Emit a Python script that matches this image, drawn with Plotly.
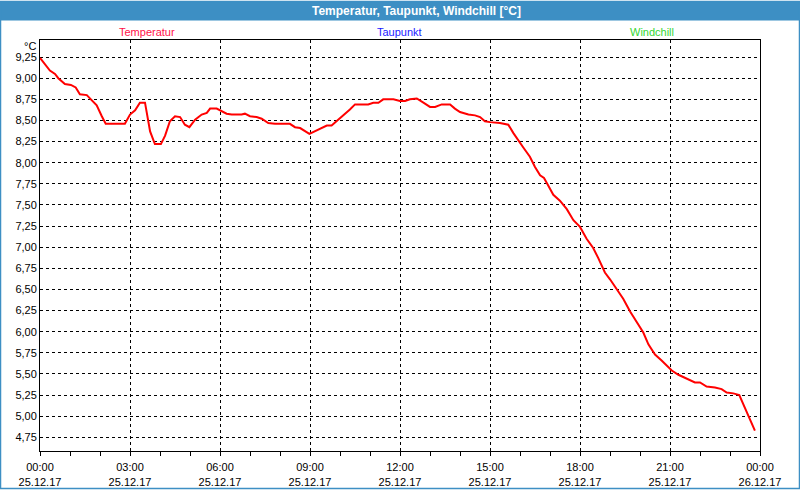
import plotly.graph_objects as go
from datetime import datetime, timedelta

# hours after 25.12.17 00:00 and temperature values (°C)
hours = [0.0, 0.33, 0.5, 0.61, 0.83, 1.03, 1.19, 1.33, 1.56, 1.72, 1.89, 2.06, 2.19,
         2.83, 3.0, 3.17, 3.33, 3.5, 3.67, 3.83, 4.03, 4.17, 4.33, 4.5, 4.67, 4.83,
         4.98, 5.17, 5.39, 5.56, 5.67, 5.89, 6.0, 6.22, 6.39, 6.72, 6.83, 7.0, 7.22,
         7.39, 7.61, 7.83, 8.11, 8.33, 8.5, 8.67, 8.98, 9.22, 9.39, 9.56, 9.72, 9.89,
         10.11, 10.33, 10.5, 10.94, 11.11, 11.28, 11.44, 11.78, 12.0, 12.17, 12.33,
         12.56, 12.78, 13.0, 13.17, 13.39, 13.67, 13.83, 14.0, 14.28, 14.5, 14.67,
         14.83, 15.0, 15.33, 15.61, 15.78, 15.94, 16.11, 16.33, 16.5, 16.67, 16.8,
         16.94, 17.11, 17.33, 17.56, 17.78, 18.0, 18.22, 18.44, 18.61, 18.83, 19.0,
         19.22, 19.44, 19.67, 19.89, 20.11, 20.28, 20.5, 20.72, 20.89, 21.06, 21.28,
         21.61, 21.83, 22.0, 22.22, 22.5, 22.72, 22.89, 23.11, 23.31, 23.44, 23.64, 23.83]
temps = [9.24, 9.09, 9.05, 9.0, 8.93, 8.92, 8.89, 8.81, 8.80, 8.74, 8.68, 8.55, 8.46,
         8.46, 8.57, 8.62, 8.71, 8.71, 8.37, 8.22, 8.22, 8.32, 8.49, 8.55, 8.54, 8.45,
         8.42, 8.51, 8.57, 8.59, 8.64, 8.64, 8.62, 8.58, 8.57, 8.57, 8.58, 8.55, 8.54,
         8.52, 8.47, 8.46, 8.46, 8.46, 8.42, 8.41, 8.34, 8.38, 8.41, 8.44, 8.44, 8.49,
         8.56, 8.63, 8.69, 8.69, 8.71, 8.71, 8.75, 8.75, 8.73, 8.73, 8.75,
         8.76, 8.71, 8.66, 8.66, 8.69, 8.69, 8.64, 8.60, 8.57, 8.56, 8.54,
         8.49, 8.48, 8.47, 8.45, 8.35, 8.26, 8.18, 8.07, 7.95, 7.85, 7.82,
         7.73, 7.62, 7.55, 7.45, 7.32, 7.24, 7.10, 6.99, 6.87, 6.70, 6.62,
         6.51, 6.39, 6.24, 6.11, 5.99, 5.85, 5.73, 5.66, 5.60, 5.54, 5.49,
         5.44, 5.40, 5.40, 5.35, 5.34, 5.32, 5.28, 5.27, 5.25, 5.14, 4.99, 4.83]

tick_hours = [0, 3, 6, 9, 12, 15, 18, 21, 24]
tick_text = ["00:00<br>25.12.17", "03:00<br>25.12.17", "06:00<br>25.12.17",
             "09:00<br>25.12.17", "12:00<br>25.12.17", "15:00<br>25.12.17",
             "18:00<br>25.12.17", "21:00<br>25.12.17", "00:00<br>26.12.17"]
y_ticks = [4.75, 5.0, 5.25, 5.5, 5.75, 6.0, 6.25, 6.5, 6.75, 7.0, 7.25, 7.5,
           7.75, 8.0, 8.25, 8.5, 8.75, 9.0, 9.25]

start = datetime(2017, 12, 25)
xs = [start + timedelta(hours=h) for h in hours]
tickvals = [start + timedelta(hours=h) for h in tick_hours]

W, H = 800, 500
L, R, T, B = 40, 40, 40, 39
pw, ph = W - L - R, H - T - B


def px(x):
    return (x - L) / pw


def py(y):
    return (H - B - y) / ph


fig = go.Figure()
fig.add_trace(go.Scatter(x=xs, y=temps, mode="lines",
                         line=dict(color="#ff0000", width=2), showlegend=False,
                         hoverinfo="skip"))

font = "Liberation Sans, Arial, sans-serif"
fig.update_layout(
    width=W, height=H,
    margin=dict(l=L, r=R, t=T, b=B, pad=0),
    paper_bgcolor="white", plot_bgcolor="white",
    separators=",.",
    font=dict(family=font, size=11, color="black"),
    xaxis=dict(
        type="date",
        range=[start, start + timedelta(hours=24)],
        tickvals=tickvals, ticktext=tick_text,
        ticks="outside", ticklen=4, tickcolor="black",
        ticklabelstandoff=2,
        showgrid=True, gridcolor="black", griddash="3px,3px", gridwidth=1,
        showline=True, linecolor="black", linewidth=1, mirror=True,
        zeroline=False,
        minor=dict(dtick=3600000, ticks="outside", ticklen=4, tickcolor="black",
                   showgrid=False),
        tickfont=dict(size=11, family=font),
    ),
    yaxis=dict(
        range=[4.588, 9.452],
        tickvals=y_ticks, tickformat=".2f",
        ticks="", showgrid=True, gridcolor="black", griddash="3px,3px", gridwidth=1,
        showline=True, linecolor="black", linewidth=1, mirror=True,
        zeroline=False, tickfont=dict(size=11, family=font),
    ),
    shapes=[
        dict(type="rect", xref="paper", yref="paper",
             x0=px(0), x1=px(800), y0=py(20), y1=py(0),
             fillcolor="#3d8fc4", line=dict(width=0), layer="above"),
        dict(type="rect", xref="paper", yref="paper",
             x0=px(0.5), x1=px(799.5), y0=py(499.5), y1=py(0.5),
             fillcolor="rgba(0,0,0,0)", line=dict(color="#3d8fc4", width=1.5),
             layer="above"),
    ],
    annotations=[
        dict(text="<b>Temperatur, Taupunkt, Windchill [°C]</b>", xref="paper", yref="paper",
             x=px(416), y=py(10), showarrow=False, xanchor="center", yanchor="middle",
             font=dict(color="white", size=12, family=font)),
        dict(text="Temperatur", xref="paper", yref="paper", x=px(147), y=py(32),
             showarrow=False, xanchor="center", yanchor="middle",
             font=dict(color="#ff1048", size=11, family=font)),
        dict(text="Taupunkt", xref="paper", yref="paper", x=px(399), y=py(32),
             showarrow=False, xanchor="center", yanchor="middle",
             font=dict(color="#1a1aff", size=11, family=font)),
        dict(text="Windchill", xref="paper", yref="paper", x=px(652), y=py(32),
             showarrow=False, xanchor="center", yanchor="middle",
             font=dict(color="#33d633", size=11, family=font)),
        dict(text="°C", xref="paper", yref="paper", x=px(38), y=py(46),
             showarrow=False, xanchor="right", yanchor="middle",
             font=dict(color="black", size=11, family=font)),
    ],
)

fig.write_html("out.html", config={"displayModeBar": False},
               post_script="document.body.style.margin='0';document.body.style.overflow='hidden';")
